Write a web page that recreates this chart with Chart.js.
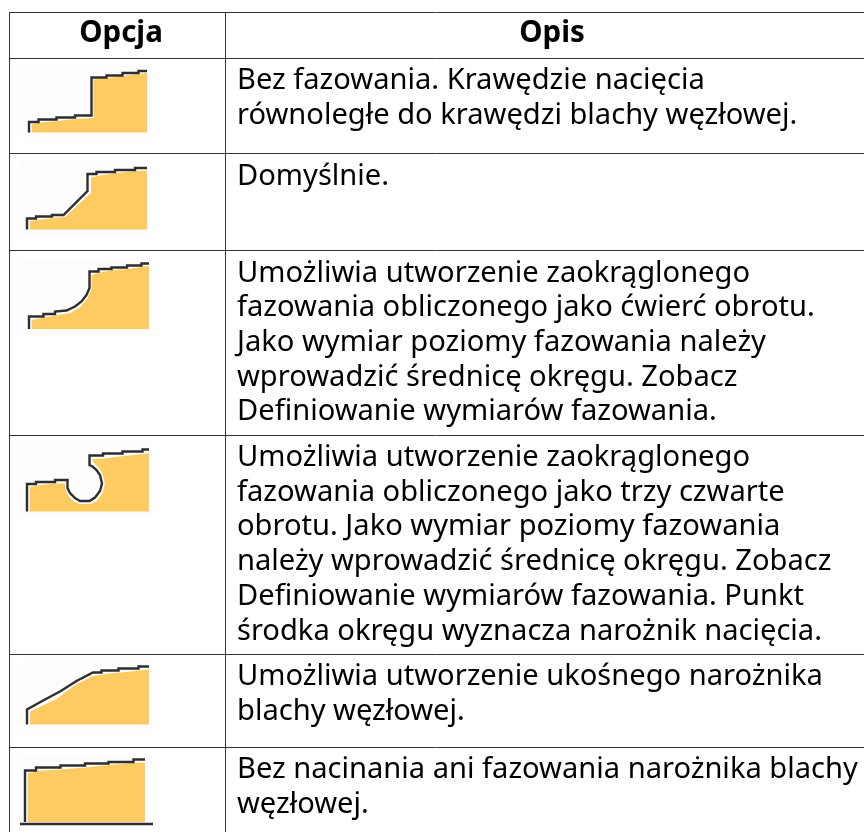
<!DOCTYPE html>
<html><head><meta charset="utf-8">
<script src="https://cdn.jsdelivr.net/npm/chart.js@4/dist/chart.umd.min.js"></script>
<style>html,body{margin:0;padding:0;background:#fff}canvas{display:block}</style>
</head><body><canvas id="c" width="864" height="832"></canvas>
<script>
const headers = ["Opcja", "Opis"];
const headerCentres = [121, 552];
const columnEdges = [9.5, 226];
const rowEdges = [12.5, 58, 153.5, 250.5, 435, 654, 747];
const descriptions = [
 ["Bez fazowania. Krawędzie nacięcia","równoległe do krawędzi blachy węzłowej."],
 ["Domyślnie."],
 ["Umożliwia utworzenie zaokrąglonego","fazowania obliczonego jako ćwierć obrotu.","Jako wymiar poziomy fazowania należy","wprowadzić średnicę okręgu. Zobacz","Definiowanie wymiarów fazowania."],
 ["Umożliwia utworzenie zaokrąglonego","fazowania obliczonego jako trzy czwarte","obrotu. Jako wymiar poziomy fazowania","należy wprowadzić średnicę okręgu. Zobacz","Definiowanie wymiarów fazowania. Punkt","środka okręgu wyznacza narożnik nacięcia."],
 ["Umożliwia utworzenie ukośnego narożnika","blachy węzłowej."],
 ["Bez nacinania ani fazowania narożnika blachy","węzłowej."]
];
// icon outlines in page units: [x, y, x, y, ...]
const line1=[29,132.5,29,122,38.5,122,38.5,119.5,56.5,119.5,56.5,117.5,75,117.5,75,115.5,91.5,115.5,91.5,77.5,106.5,77.5,106.5,75.5,122.5,75.5,122.5,73,138.5,73,138.5,71,147,71];
const fill1=[31.5,124.5,40,122.5,57,121,75,119,93,118,93.5,79.5,107,78,123,76,139,74,147,73];
const line2=[27,229.5,27,218.5,36,218.5,36,216.5,52,216.5,52,215,63.5,215,87.5,191,87.5,174,96.5,174,96.5,172,115,172,115,170,135,170,135,168,147,168];
const fill2=[29.5,221,37,220,53,218,65,217,91,193,91,177.5,100,175.5,117,173,137,171,147,170.5];
const line3=[29,329,29,316.5,43.5,316.5,43.5,314,55,314,55,311.5,66.5,310.5,75,306.5,81.5,301.5,86.5,295,89.5,288,89.5,271.5,98.5,271.5,98.5,269,111.5,269,111.5,267.5,127,267.5,127,265.5,141.5,265.5,141.5,263.5,149,263.5];
const fill3=[31.5,320,45,317.5,58,315,70,313,80,307.5,87.5,298,91.5,289,91.5,275,100,272.5,113.5,270,128.5,269,143,266.5,149,266];
const line4=[27,511.5,27,484,36,484,36,482,55,482,55,480,67.5,480,67.5,488,70,493,75,498,80,501,89.5,501,95,497.5,100,491,102,483.5,100,475,96.5,470,92.5,466.5,89.5,465,89.5,455.5,103,455.5,103,453.5,122.5,453.5,122.5,451.5,142.5,451.5,142.5,449.5,149,449.5];
const fill4=[29.5,487,36.5,485.5,55,483.5,65,483.5,65,488,68,495.5,73,501,80,504,90,504,96.5,501,102.5,493,105,483.5,102.5,474,99,468,95,464,91.5,459,103.5,458.5,123.5,456,143,454,149,453];
const line5=[27,724.5,27,709.5,35,705,45,699.5,60,691.5,76.5,681,93,672.5,101.5,672.5,101.5,670.5,118.5,670.5,118.5,668.5,138.5,668.5,138.5,666.5,149,666.5];
const fill5=[30,724,30,711.5,56.5,699,75,685,93,676,110,673.5,130,671.5,149,669.5];
const line6=[25,822,25,770.5,36,770.5,36,767.5,60.5,767.5,60.5,765.5,85,765.5,85,763.5,108.5,763.5,108.5,762,133.5,762,133.5,759.5,145,759.5];
const fill6=[27.5,773.5,36.5,771,60.5,769.5,85,767.5,108.5,765,133.5,763,145,762.5];
const groundLine=[20,824,153,824];
const iconBottoms=[132.5,229.5,329,511.5,724.5,822];
const iconBacks=[[20,66,152,138],[20,161,148,236],[20,260,152,333],[20,443,152,516],[20,662,152,733],[20,756,152,825]];

const pts=a=>{const o=[];for(let i=0;i<a.length;i+=2)o.push({x:a[i],y:a[i+1]});return o;};
const datasets=[];
iconBacks.forEach(b=>datasets.push({data:[{x:b[0],y:b[1]},{x:b[2],y:b[1]}],showLine:true,borderWidth:0,pointRadius:0,borderColor:'transparent',backgroundColor:'#fcfdfc',fill:{value:b[3]}}));
[fill1,fill2,fill3,fill4,fill5,fill6].forEach((f,i)=>datasets.push({data:pts(f),showLine:true,borderWidth:0,pointRadius:0,borderColor:'transparent',backgroundColor:'#fdcb62',fill:{value:iconBottoms[i]}}));
[line1,line2,line3,line4,line5,line6,groundLine].forEach(l=>datasets.push({data:pts(l),showLine:true,borderWidth:2.4,pointRadius:0,borderColor:'#2e2e2e',fill:false,tension:0,borderJoinStyle:'miter'}));
datasets.forEach((d,i)=>d.order=datasets.length-i);

const FONT='"Noto Sans"';
const tablePlugin={id:'tableText',afterDatasetsDraw(ch){
 const c=ch.ctx,X=ch.scales.x,Y=ch.scales.y;
 c.save();c.fillStyle='#000';c.textBaseline='alphabetic';
 c.font='bold 29.5px '+FONT;c.textAlign='center';
 headers.forEach((h,i)=>c.fillText(h,X.getPixelForValue(headerCentres[i]),Y.getPixelForValue(rowEdges[0]+29.5)));
 c.font='29.1px '+FONT;c.textAlign='left';
 descriptions.forEach((ls,r)=>ls.forEach((t,k)=>c.fillText(t,X.getPixelForValue(columnEdges[1]+11),Y.getPixelForValue(rowEdges[r+1]+31+k*34.7))));
 c.restore();
}};
const gridCfg=()=>({display:true,color:'#333',lineWidth:1,drawTicks:false});
new Chart(document.getElementById('c'),{type:'scatter',data:{datasets},plugins:[tablePlugin],
 options:{responsive:false,animation:false,layout:{padding:{left:9,top:12,right:0,bottom:0}},
  plugins:{legend:{display:false},tooltip:{enabled:false},title:{display:false}},
  scales:{
   x:{type:'linear',min:9,max:864,border:{display:false},grid:gridCfg(),ticks:{display:false},afterBuildTicks:a=>{a.ticks=columnEdges.map(v=>({value:v}));}},
   y:{type:'linear',min:12,max:832,reverse:true,border:{display:false},grid:gridCfg(),ticks:{display:false},afterBuildTicks:a=>{a.ticks=rowEdges.map(v=>({value:v}));}}
  }}});
</script></body></html>
